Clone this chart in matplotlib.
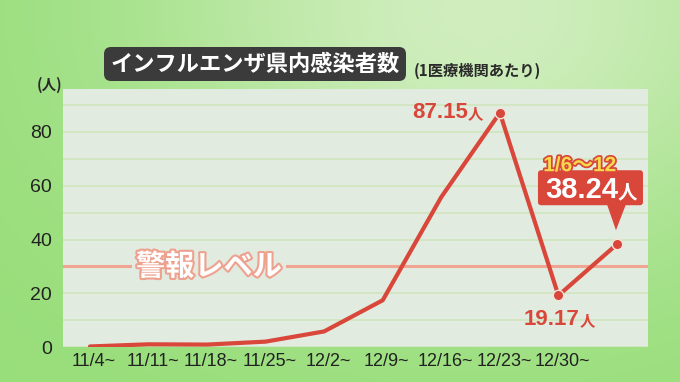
import numpy as np
import matplotlib.pyplot as plt
import matplotlib.patheffects as pe
import matplotlib.transforms as mtransforms
from matplotlib.patches import Polygon, FancyBboxPatch

weeks = ["11/4~", "11/11~", "11/18~", "11/25~", "12/2~", "12/9~",
         "12/16~", "12/23~", "12/30~", ""]
cases = [0.2, 1.0, 0.9, 2.0, 5.8, 17.4, 55.8, 87.15, 19.17, 38.24]
alert_level = 30
yticks = [0, 20, 40, 60, 80]

JP = ['Noto Sans CJK JP', 'DejaVu Sans']
NUM = ['Liberation Sans', 'Noto Sans CJK JP']
NARROW = ['Liberation Sans Narrow', 'Liberation Sans', 'Noto Sans CJK JP']
RED = '#d9463a'
PANEL = '#e2ebdf'

fig = plt.figure(figsize=(6.8, 3.82), dpi=100)

# green background, lighter near the top right
W, H = 680, 382
xx, yy = np.meshgrid(np.arange(W), np.arange(H))
t = np.exp(-(((xx - 480) / 330.0) ** 2 + ((yy - 10) / 250.0) ** 2))
base = np.array([152, 222, 122]) / 255
light = np.array([208, 238, 190]) / 255
img = base + t[..., None] * (light - base)
bg = fig.add_axes([0, 0, 1, 1])
bg.imshow(img, aspect='auto')
bg.axis('off')

ax = fig.add_axes([63 / W, 1 - 347 / H, 585 / W, 258 / H])
ax.set_facecolor(PANEL)
x = np.arange(len(cases))
ax.set_xlim(-0.46, 9.53)
ax.set_ylim(0, 96)
for s in ax.spines.values():
    s.set_visible(False)

ax.set_yticks(yticks)
ax.set_yticklabels([str(v) for v in yticks], fontsize=14, family=NUM, color='#222222')
ax.set_yticks(np.arange(10, 100, 20), minor=True)
ax.grid(axis='y', which='both', color='#d0e6bf', lw=1.2)
ax.set_axisbelow(True)
ax.set_xticks(x)
ax.set_xticklabels(weeks, fontsize=13, family=NARROW, color='#222222')
ax.tick_params(which='both', length=0)
ax.tick_params(axis='y', pad=8)
ax.tick_params(axis='x', pad=4)
shift = mtransforms.ScaledTranslation(4 / 100, 0, fig.dpi_scale_trans)
for lab in ax.get_xticklabels():
    lab.set_transform(lab.get_transform() + shift)

# alert level
ax.axhline(alert_level, color='#f0a592', lw=2.2, zorder=2)
ax.text(2.03, alert_level, '警報レベル', ha='center', va='center', fontsize=21,
        fontweight='bold', color='white', family=JP, zorder=2.5,
        path_effects=[pe.withStroke(linewidth=3, foreground='#eea18e')],
        bbox=dict(boxstyle='square,pad=0.15', fc=PANEL, ec='none'))

ax.plot(x, cases, color=RED, lw=3, solid_joinstyle='round',
        solid_capstyle='round', zorder=3)
ax.plot(x[7:], cases[7:], 'o', color=RED, ms=7.5, mec='#f3e4dc', mew=1, zorder=4)


def value_label(i, dx, dy, color, size, usize, z=6):
    ax.annotate(f"{cases[i]:.2f}", (x[i], cases[i]), xytext=(dx, dy),
                textcoords='offset pixels', ha='right', va='baseline',
                fontsize=size, fontweight='bold', color=color, family=NUM, zorder=z)
    ax.annotate('人', (x[i], cases[i]), xytext=(dx, dy),
                textcoords='offset pixels', ha='left', va='baseline',
                fontsize=usize, fontweight='bold', color=color, family=JP, zorder=z)


value_label(7, -32, -5, RED, 16, 11)
value_label(8, 21, -30, RED, 16, 11)

# callout for the latest week
px, py = ax.transData.transform((x[9], cases[9]))
box = FancyBboxPatch((px - 79, py + 39), 105, 35,
                     boxstyle='round,pad=0,rounding_size=3',
                     transform=mtransforms.IdentityTransform(),
                     fc=RED, ec='none', zorder=5)
ax.add_artist(box)
tip = Polygon([[px - 10, py + 40], [px + 9, py + 40], [px - 1, py + 14]],
              closed=True, transform=mtransforms.IdentityTransform(),
              fc=RED, ec='none', zorder=5)
ax.add_artist(tip)
value_label(9, 1, 46, 'white', 21, 14)
ax.annotate('1/6〜12', (x[9], cases[9]), xytext=(-37, 73), textcoords='offset pixels',
            ha='center', va='baseline', fontsize=15, fontweight='bold',
            color='#f7d84a', family=NUM, zorder=7,
            path_effects=[pe.withStroke(linewidth=2.5, foreground=RED)])

# title
fig.add_artist(FancyBboxPatch((104, H - 81), 302, 34,
                              boxstyle='round,pad=0,rounding_size=7',
                              transform=mtransforms.IdentityTransform(),
                              fc='#3b3b3b', ec='none'))
fig.text(255 / W, 1 - 64 / H, 'インフルエンザ県内感染者数', ha='center', va='center',
         color='white', fontsize=16, fontweight='bold', family=JP)
fig.text(414 / W, 1 - 71 / H, '(1医療機関あたり)', ha='left', va='center',
         fontsize=11, fontweight='bold', color='#2a2a2a', family=JP)
fig.text(50 / W, 1 - 85 / H, '(人)', ha='center', va='center',
         fontsize=10.5, fontweight='bold', color='#2a2a2a', family=JP)

fig.savefig('out.png', dpi=100)
